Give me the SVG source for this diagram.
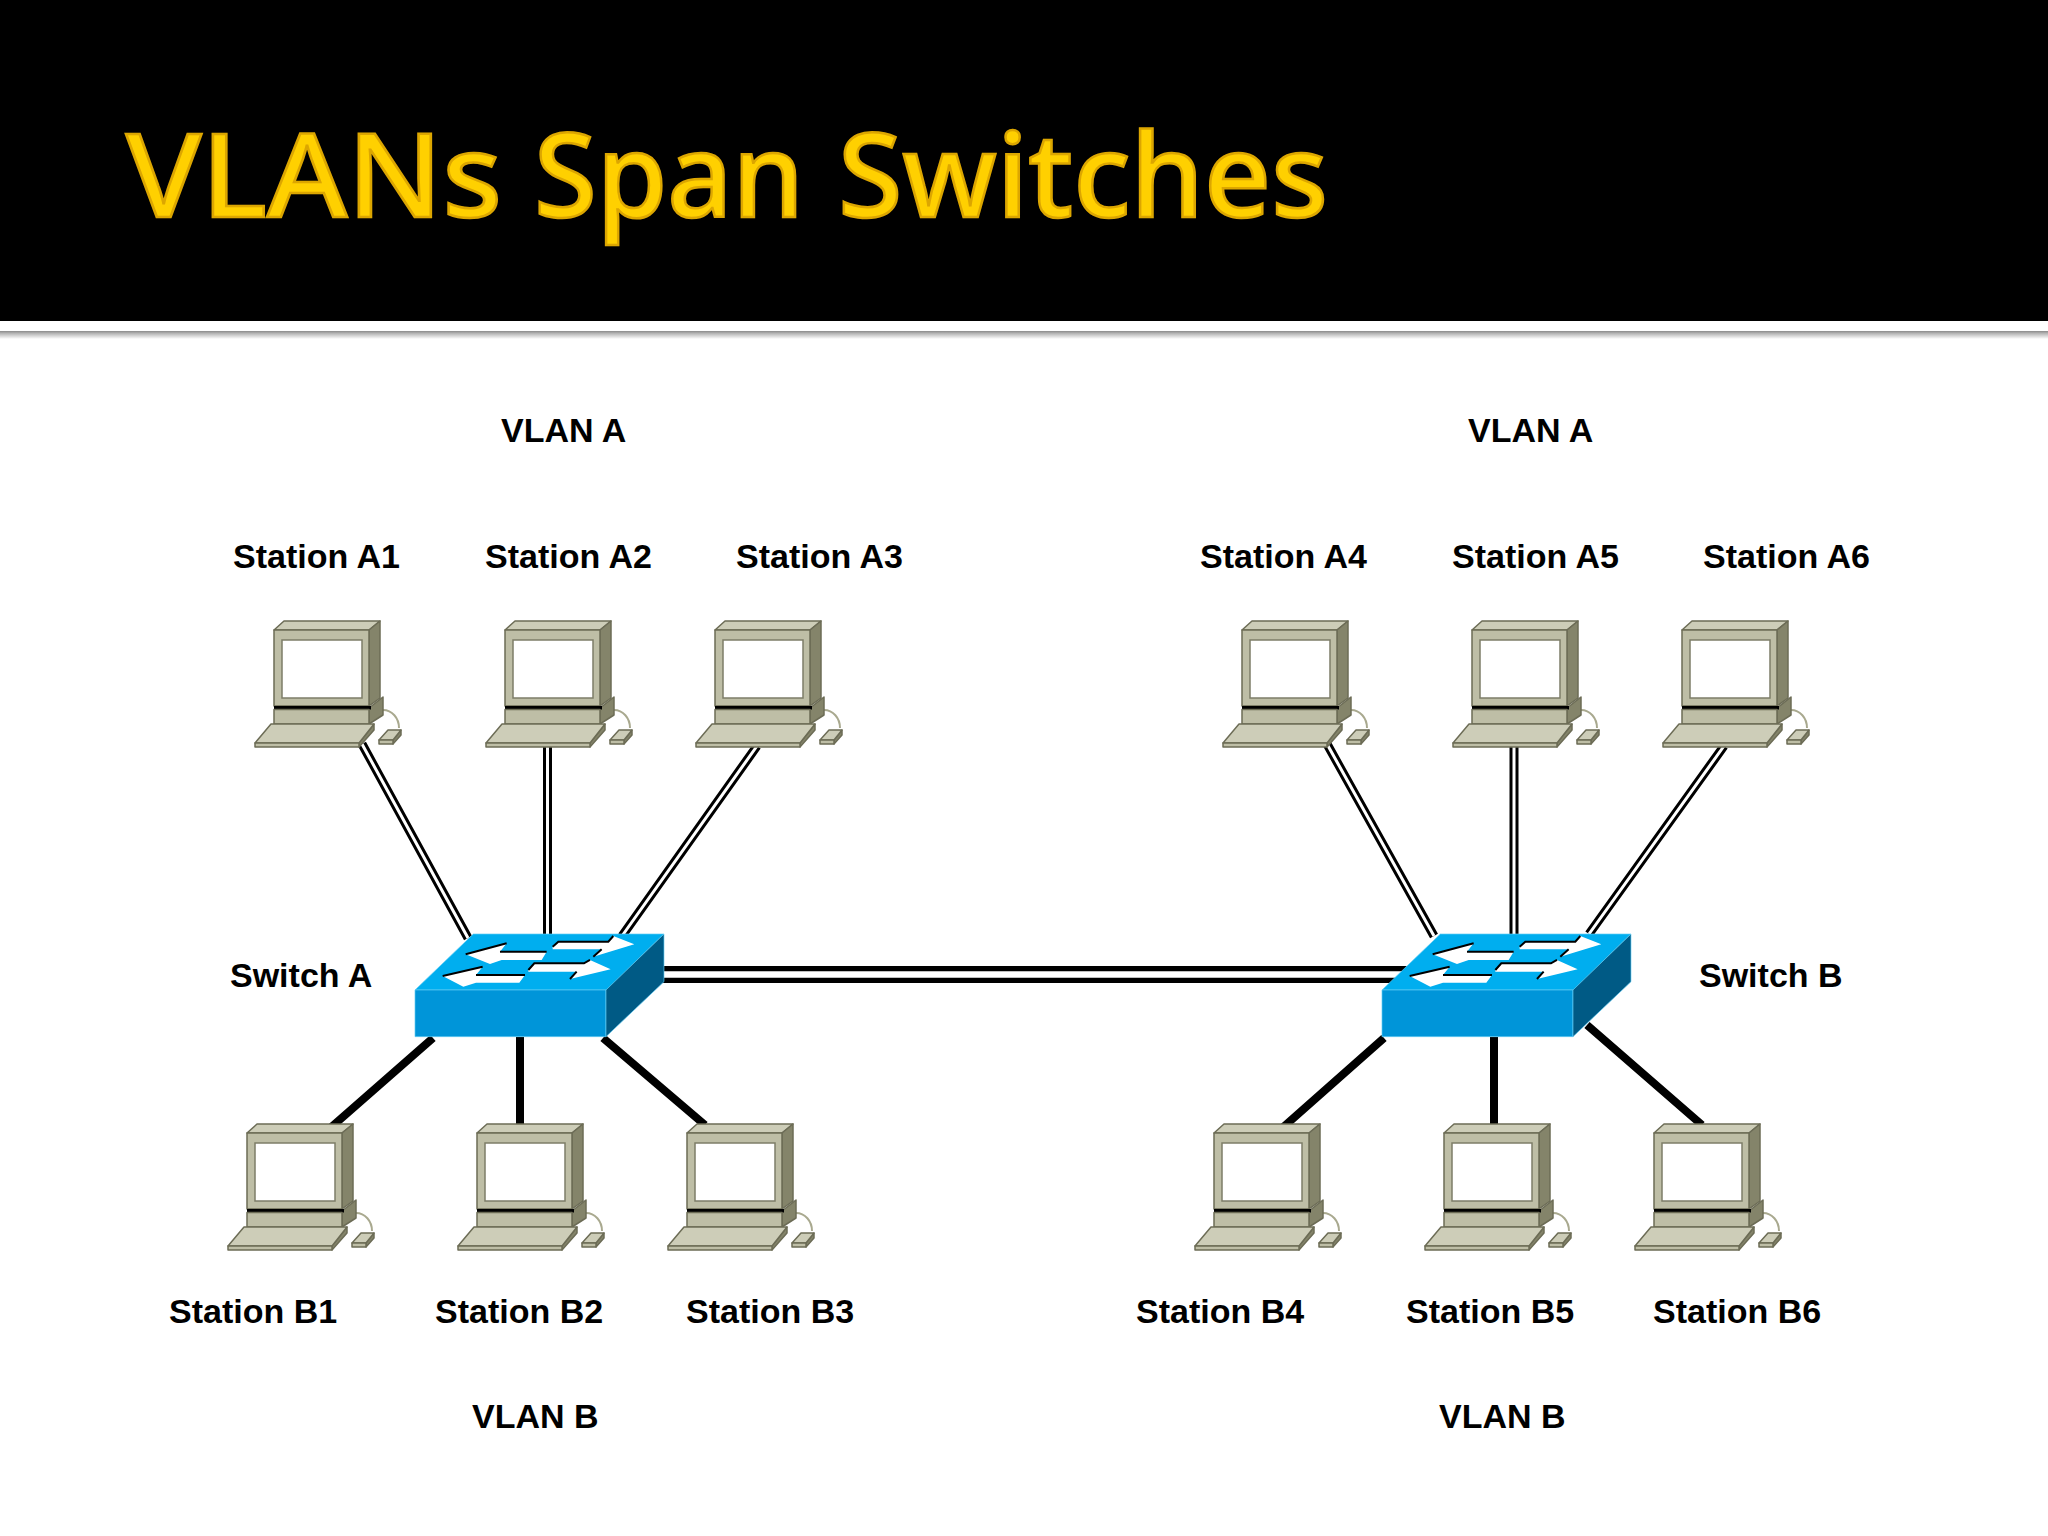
<svg xmlns="http://www.w3.org/2000/svg" width="2048" height="1536" viewBox="0 0 2048 1536">
<style>
text{font-family:"Liberation Sans",Arial,sans-serif}
.l{font-size:34px;font-weight:700;fill:#000}
.t{font-family:"Noto Sans","Open Sans",sans-serif;font-size:116px;font-weight:500;fill:#ffd000;stroke:#dca600;stroke-width:2.5px}
.o{stroke:#000;stroke-width:9;fill:none}
.i{stroke:#fff;stroke-width:3;fill:none}
.k{stroke:#000;stroke-width:8;fill:none}
.c{stroke:#6c6c56;stroke-width:1.5;stroke-linejoin:round}
.f{fill:#bebea6}.u{fill:#cdcdb8}.d{fill:#84846a}
.e{stroke:#63cdf5;stroke-width:2;stroke-linejoin:round}
.a{fill:#fff}
.b{fill:none;stroke:#000;stroke-width:6}
</style>
<defs>
<linearGradient id="s" x1="0" y1="0" x2="0" y2="1"><stop offset="0" stop-color="#8a8a8a"/><stop offset=".3" stop-color="#b5b5b5"/><stop offset="1" stop-color="#fff"/></linearGradient>
<g id="pc">
<path d="M109,80C118,80 125,88 125,98" fill="none" stroke="#a9a98f" stroke-width="2"/>
<path class="c u" d="M0,0L10,-9H106L95,0Z"/>
<path class="c d" d="M95,0L106,-9V68L95,76Z"/>
<rect class="c f" x="0" y="0" width="95" height="76"/>
<rect x="8" y="10" width="80" height="58" fill="#fff" stroke="#7d7d68" stroke-width="1.5"/>
<path class="c d" d="M95,78L109,67V85L95,94Z"/>
<rect x="0" y="76" width="97" height="3.5" fill="#000"/>
<rect class="c f" x="0" y="79.5" width="95" height="14.5"/>
<path class="c d" d="M100,94V100L85,117V113Z"/>
<path class="c u" d="M-3,94H100L85,113H-19Z"/>
<rect class="c f" x="-19" y="113" width="104" height="4"/>
<path class="c d" d="M127,100V105L119,114V110Z"/>
<path class="c u" d="M114,100H127L119,110H105Z"/>
<rect class="c f" x="105" y="110" width="14" height="4"/>
</g>
<g id="sw">
<path class="e" fill="#00aeef" d="M220,72H792L620,240H45Z"/>
<path class="e" fill="#0095d9" d="M45,240H618V380H45Z"/>
<path class="e" fill="#005a85" d="M618,240L792,72V215L618,380Z"/>
<path class="a" d="M197,133L320,100L300,125H440L425,150H305L270,162Z"/>
<path class="b" d="M197,133L320,100M300,125H440"/>
<path class="a" d="M458,110L475,95H625L640,78L703,103L580,140L605,118H458Z"/>
<path class="b" d="M458,110L475,95H625L640,78M580,140L605,118"/>
<path class="a" d="M128,198L248,170L228,195H375L358,218H228L190,230Z"/>
<path class="b" d="M128,198L248,170M228,195H375"/>
<path class="a" d="M385,180L403,160H552L570,150L632,178L510,207L530,185H385Z"/>
<path class="b" d="M385,180L403,160H552L570,150M510,207L530,185"/>
</g>
</defs>
<rect width="2048" height="1536" fill="#fff"/>
<rect width="2048" height="321" fill="#000"/>
<rect y="331" width="2048" height="8" fill="url(#s)"/>
<text class="t" y="217"><tspan x="126" textLength="376" lengthAdjust="spacingAndGlyphs">VLANs</tspan> <tspan x="534" textLength="270" lengthAdjust="spacingAndGlyphs">Span</tspan> <tspan x="838" textLength="490" lengthAdjust="spacingAndGlyphs">Switches</tspan></text>
<g id="connectors">
<g class="o">
<path d="M362,744L468,938M547.5,745V936M757,746L622,936"/>
<path d="M1327,744L1434,936M1514,745V936M1724,746L1589,934"/>
</g>
<g class="i">
<path d="M362,744L468,938M547.5,745V936M757,746L622,936"/>
<path d="M1327,744L1434,936M1514,745V936M1724,746L1589,934"/>
</g>
<path d="M660,974.5H1410" stroke="#000" stroke-width="17" fill="none"/>
<path d="M660,974.5H1410" stroke="#fff" stroke-width="6.5" fill="none"/>
<path class="k" d="M433,1038L328,1130M520,1037V1130M603,1038L705,1125"/>
<path class="k" d="M1384,1038L1280,1130M1494,1037V1130M1587,1025L1702,1125"/>
</g>
<g id="station-a1"><use href="#pc" x="274" y="630"/><text class="l" x="233" y="568">Station A1</text></g>
<g id="station-a2"><use href="#pc" x="505" y="630"/><text class="l" x="485" y="568">Station A2</text></g>
<g id="station-a3"><use href="#pc" x="715" y="630"/><text class="l" x="736" y="568">Station A3</text></g>
<g id="station-a4"><use href="#pc" x="1242" y="630"/><text class="l" x="1200" y="568">Station A4</text></g>
<g id="station-a5"><use href="#pc" x="1472" y="630"/><text class="l" x="1452" y="568">Station A5</text></g>
<g id="station-a6"><use href="#pc" x="1682" y="630"/><text class="l" x="1703" y="568">Station A6</text></g>
<g id="station-b1"><use href="#pc" x="247" y="1133"/><text class="l" x="169" y="1323">Station B1</text></g>
<g id="station-b2"><use href="#pc" x="477" y="1133"/><text class="l" x="435" y="1323">Station B2</text></g>
<g id="station-b3"><use href="#pc" x="687" y="1133"/><text class="l" x="686" y="1323">Station B3</text></g>
<g id="station-b4"><use href="#pc" x="1214" y="1133"/><text class="l" x="1136" y="1323">Station B4</text></g>
<g id="station-b5"><use href="#pc" x="1444" y="1133"/><text class="l" x="1406" y="1323">Station B5</text></g>
<g id="station-b6"><use href="#pc" x="1654" y="1133"/><text class="l" x="1653" y="1323">Station B6</text></g>
<g id="switch-a"><use href="#sw" transform="translate(400,910) scale(.3333)"/><text class="l" x="230" y="987">Switch A</text></g>
<g id="switch-b"><use href="#sw" transform="translate(1367,910) scale(.3333)"/><text class="l" x="1699" y="987">Switch B</text></g>
<g id="vlan-labels">
<text class="l" x="501" y="442">VLAN A</text>
<text class="l" x="1468" y="442">VLAN A</text>
<text class="l" x="472" y="1428">VLAN B</text>
<text class="l" x="1439" y="1428">VLAN B</text>
</g>
</svg>
